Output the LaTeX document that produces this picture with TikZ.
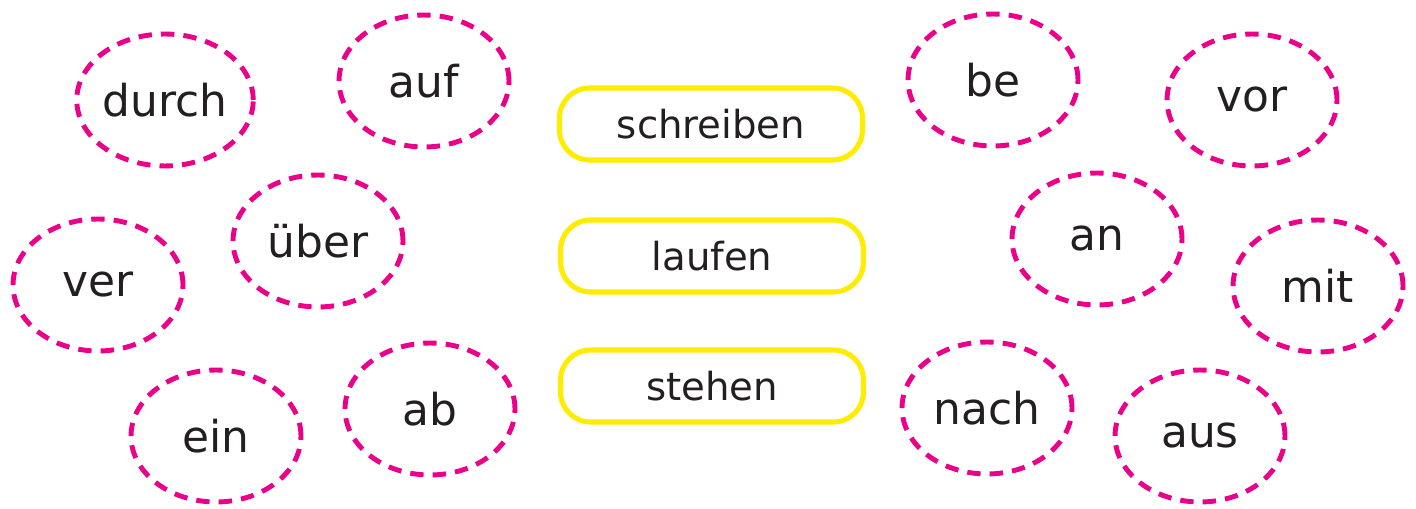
\documentclass[tikz,border=0pt]{standalone}
\usepackage{fontspec}
\setmainfont{DejaVu Sans}
\usetikzlibrary{shapes.geometric}
\definecolor{prefpink}{RGB}{234,0,137}
\definecolor{verbyellow}{RGB}{255,236,0}
\definecolor{inkblack}{RGB}{35,31,32}
\tikzset{
  prefixoval/.style={ellipse, draw=prefpink, line width=2.8pt,
    dash pattern=on 7.6pt off 5.2pt, inner sep=0pt,
    minimum width=3.4cm, minimum height=2.64cm,
    text=inkblack, font=\fontsize{25}{30}\selectfont},
  verbbox/.style={rectangle, rounded corners=0.6cm, draw=verbyellow,
    line width=2.9pt, inner sep=0pt,
    minimum width=6.06cm, minimum height=1.44cm,
    text=inkblack, font=\fontsize{22}{26}\selectfont}
}
\begin{document}
\begin{tikzpicture}[x=0.02cm, y=-0.02cm]
\useasboundingbox (0,0) rectangle (1416,509);

\node [prefixoval] (durch) at (165,100) {durch};

\node [prefixoval] (auf)   at (424,81)  {auf};

\node [prefixoval] (ver)   at (98,285)  {ver};

\node [prefixoval] (ueber) at (318,241) {über};

\node [prefixoval] (ein)   at (216,436) {ein};

\node [prefixoval] (ab)    at (430,409) {ab};


\node [verbbox] (schreiben) at (711,124) {schreiben};

\node [verbbox] (laufen)    at (712,256) {laufen};

\node [verbbox] (stehen)    at (712,386) {stehen};


\node [prefixoval] (be)    at (993,80)   {be};

\node [prefixoval] (vor)   at (1252,100) {vor};

\node [prefixoval] (an)    at (1097,239) {an};

\node [prefixoval] (mit)   at (1318,286) {mit};

\node [prefixoval] (nach)  at (987,408)  {nach};

\node [prefixoval] (aus)   at (1200,436) {aus};

\end{tikzpicture}
\end{document}
